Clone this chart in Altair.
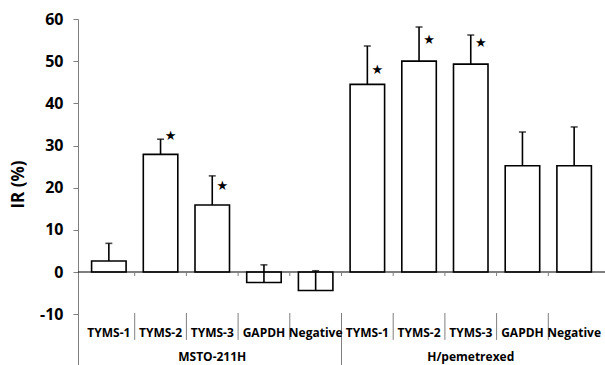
import altair as alt
import pandas as pd

# ---- data ----
categories = ["TYMS-1", "TYMS-2", "TYMS-3", "GAPDH", "Negative",
              "TYMS-1", "TYMS-2", "TYMS-3", "GAPDH", "Negative"]
groups = ["MSTO-211H"] * 5 + ["H/pemetrexed"] * 5
group_names = ["MSTO-211H", "H/pemetrexed"]
values = [2.6, 27.9, 15.9, -2.5, -4.4, 44.5, 50.0, 49.3, 25.2, 25.2]
errors = [4.2, 3.6, 6.9, 4.2, 4.7, 9.1, 8.1, 6.9, 8.0, 9.2]
significant = [False, True, True, False, False, True, True, True, False, False]
star_values = [None, 32.2, 20.4, None, None, 47.9, 55.0, 54.3, None, None]
y_ticks = [-10, 0, 10, 20, 30, 40, 50, 60]

FONT = "Open Sans"
AXIS_GRAY = "#7f7f7f"

n = len(categories)
idx = list(range(n))
df = pd.DataFrame({"idx": idx, "cat": categories, "grp": groups,
                   "value": values, "err": errors})
df["top"] = df["value"] + df["err"]

stars = pd.DataFrame({"idx": [i for i in idx if significant[i]],
                      "sy": [star_values[i] for i in idx if significant[i]]})

bounds = [i + 0.5 for i in range(n - 1)]
group_size = n // len(group_names)
group_bounds = [group_size - 0.5]
cat_bounds = [b for b in bounds if b not in group_bounds]
gdf = pd.DataFrame({"grp": group_names,
                    "gx": [(g * group_size + (g + 1) * group_size - 1) / 2
                           for g in range(len(group_names))]})

# layout constants (data units on the y scale)
Y_MIN, Y_MAX = -22.05, 60
LABEL_Y = -15.4
GROUP_Y = -21.1
SEP_TOP, SEP_BOT = -9.72, -16.1

xs = alt.Scale(domain=[-0.5, n - 0.5], nice=False, zero=False)
ys = alt.Scale(domain=[Y_MIN, Y_MAX], nice=False, zero=False)


def X(field="idx"):
    return alt.X(f"{field}:Q", scale=xs, axis=None, title=None)


def Y(field):
    return alt.Y(f"{field}:Q", scale=ys, title="IR (%)",
                 axis=alt.Axis(values=y_ticks, grid=False, domainColor=AXIS_GRAY,
                               tickColor=AXIS_GRAY, tickSize=5, labelPadding=10,
                               labelExpr="'' + datum.value",
                               labelFont=FONT, labelFontSize=16, labelFontWeight="bold",
                               labelColor="black", titleFont=FONT, titleFontSize=17,
                               titleFontWeight="bold", titleColor="black",
                               titleX=-60, titleY=165, titleAlign="center",
                               titleBaseline="middle"))


base = alt.Chart(df)

bars = base.mark_bar(size=34.5, fill="white", stroke="black", strokeWidth=1.6,
                     orient="vertical").encode(
    x=X(), y=Y("value"), y2=alt.datum(0))

err_line = base.mark_rule(color="black", strokeWidth=1.6).encode(
    x=X(), y=Y("value"), y2="top:Q")
err_cap = base.mark_tick(color="black", thickness=1.6, size=7,
                         orient="horizontal").encode(x=X(), y=Y("top"))

zero = alt.Chart(pd.DataFrame({"z": [0]})).mark_rule(
    color="black", strokeWidth=1.2).encode(y=Y("z"))

tick_df = pd.DataFrame({"b": bounds, "t0": [0] * len(bounds)})
xticks = alt.Chart(tick_df).mark_rule(color=AXIS_GRAY, strokeWidth=1).encode(
    x=X("b"), y=Y("t0"), y2=alt.datum(-0.95))

sep_df = pd.DataFrame({"b": cat_bounds, "s0": [SEP_TOP] * len(cat_bounds)})
seps = alt.Chart(sep_df).mark_rule(color=AXIS_GRAY, strokeWidth=1).encode(
    x=X("b"), y=Y("s0"), y2=alt.datum(SEP_BOT))

gsep_df = pd.DataFrame({"b": group_bounds, "s0": [SEP_TOP] * len(group_bounds)})
gseps = alt.Chart(gsep_df).mark_rule(color=AXIS_GRAY, strokeWidth=1).encode(
    x=X("b"), y=Y("s0"), y2=alt.datum(Y_MIN))

df["ly"] = LABEL_Y
cat_labels = alt.Chart(df).mark_text(font=FONT, fontSize=12, fontWeight="bold",
                                     color="black", baseline="alphabetic").encode(
    x=X(), y=Y("ly"), text="cat:N")

gdf["gy"] = GROUP_Y
grp_labels = alt.Chart(gdf).mark_text(font=FONT, fontSize=12, fontWeight="bold",
                                      color="black", baseline="alphabetic").encode(
    x=X("gx"), y=Y("gy"), text="grp:N")

star_marks = alt.Chart(stars).mark_text(text="★", font="DejaVu Sans", fontSize=13,
                                        color="black", dx=10, baseline="middle").encode(
    x=X(), y=Y("sy"))

chart = alt.layer(bars, err_line, err_cap, zero, xticks, seps, gseps,
                  cat_labels, grp_labels, star_marks).properties(
    width=527, height=346,
    autosize=alt.AutoSizeParams(type="none"),
    padding={"left": 78, "top": 19, "right": 0, "bottom": 0},
    background="white",
).configure_view(stroke=None)

chart.save("out.html", embed_options={"renderer": "svg", "actions": False})
